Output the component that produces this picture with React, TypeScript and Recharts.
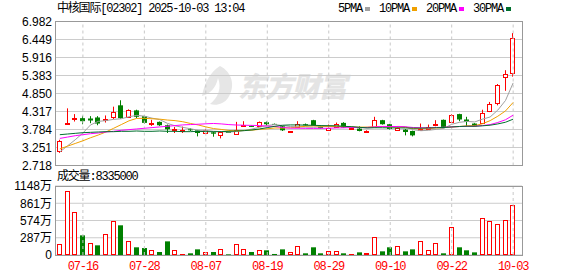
import React from 'react';
import { ComposedChart, Bar, Line, XAxis, YAxis, CartesianGrid, ReferenceLine } from 'recharts';

const dates = ['07-11','07-14','07-15','07-16','07-17','07-18','07-21','07-22','07-23','07-24','07-25','07-28','07-29','07-30','07-31','08-01','08-04','08-05','08-06','08-07','08-08','08-11','08-12','08-13','08-14','08-15','08-18','08-19','08-20','08-21','08-22','08-25','08-26','08-27','08-28','08-29','09-01','09-02','09-03','09-04','09-05','09-08','09-09','09-10','09-11','09-12','09-15','09-16','09-17','09-18','09-19','09-22','09-23','09-24','09-25','09-26','09-29','09-30','10-02','10-03'];

const opens = [3.13,3.95,4.09,4.12,4.11,4.14,4.06,4.13,4.50,4.15,4.35,4.18,3.97,4.01,3.91,3.78,3.75,3.79,3.76,3.68,3.70,3.62,3.71,3.66,3.90,3.89,3.88,4.00,3.95,3.88,3.70,3.87,3.94,4.06,3.87,3.78,3.87,3.98,3.83,3.81,3.74,3.84,4.06,3.94,3.76,3.78,3.74,3.77,3.81,3.95,4.07,4.00,4.24,4.08,3.96,3.96,4.33,4.57,5.35,5.46];
const highs = [3.48,4.41,4.24,4.19,4.18,4.18,4.20,4.46,4.65,4.38,4.37,4.19,4.07,4.02,3.93,3.86,3.87,3.82,3.77,3.79,3.72,3.73,3.72,4.01,4.03,3.90,4.02,4.02,3.96,3.89,3.74,4.03,3.96,4.07,3.88,3.93,3.99,4.00,3.85,3.88,3.76,4.16,4.07,3.95,3.84,3.80,3.75,3.96,3.93,4.06,4.08,4.24,4.25,4.16,3.97,4.37,4.60,5.13,5.54,6.64];
const lows = [3.09,3.93,4.02,3.94,3.97,3.91,3.99,4.09,4.10,4.13,4.12,3.96,3.89,3.89,3.68,3.68,3.68,3.74,3.58,3.67,3.57,3.52,3.68,3.65,3.86,3.86,3.87,3.90,3.92,3.74,3.69,3.86,3.90,3.89,3.81,3.77,3.86,3.83,3.82,3.73,3.72,3.83,3.93,3.78,3.74,3.61,3.58,3.76,3.80,3.88,3.85,3.99,4.03,3.88,3.87,3.95,4.30,4.50,4.93,5.35];
const closes = [3.44,3.97,4.11,4.03,4.05,3.96,4.09,4.29,4.12,4.35,4.16,3.98,3.99,3.91,3.79,3.79,3.76,3.78,3.68,3.78,3.66,3.72,3.69,3.78,3.92,3.87,4.00,3.94,3.93,3.76,3.73,3.95,3.91,3.90,3.82,3.84,3.96,3.84,3.84,3.74,3.75,4.06,3.94,3.80,3.83,3.71,3.61,3.79,3.87,3.96,3.86,4.21,4.08,4.01,3.88,4.27,4.53,5.10,5.43,6.49];

const volumes = [1770000,10590000,7100000,3270000,1940000,1610000,3440000,5600000,4940000,2270000,1280000,1160000,890000,500000,2270000,890000,110000,280000,940000,440000,500000,1050000,110000,1890000,1050000,500000,890000,780000,170000,940000,440000,1550000,280000,1280000,280000,610000,610000,280000,110000,440000,280000,2940000,610000,1280000,1440000,610000,940000,2270000,890000,1940000,280000,4710000,1280000,780000,440000,6210000,5710000,5100000,5880000,8335000];
const volumeUp = [1,1,1,0,1,0,1,1,0,1,0,0,1,0,0,1,1,0,0,1,0,1,0,1,1,0,1,0,0,0,1,1,0,0,0,1,1,0,1,0,1,1,0,0,1,0,0,1,1,1,0,1,0,0,0,1,1,1,1,1];

const ma5 = [3.12,3.30,3.48,3.68,3.92,4.024,4.048,4.084,4.102,4.162,4.202,4.18,4.12,4.078,3.966,3.892,3.848,3.806,3.76,3.758,3.732,3.724,3.706,3.726,3.754,3.796,3.852,3.902,3.932,3.90,3.872,3.862,3.856,3.85,3.862,3.884,3.886,3.872,3.86,3.844,3.826,3.846,3.866,3.858,3.876,3.868,3.778,3.748,3.762,3.788,3.818,3.938,3.996,4.024,4.008,4.09,4.154,4.358,4.642,5.164];
const ma10 = [3.21,3.29,3.37,3.45,3.54,3.62,3.71,3.82,3.93,4.041,4.113,4.114,4.102,4.09,4.064,4.047,4.014,3.963,3.919,3.862,3.812,3.786,3.756,3.743,3.756,3.764,3.788,3.804,3.829,3.827,3.834,3.857,3.879,3.891,3.881,3.878,3.874,3.864,3.855,3.853,3.855,3.866,3.869,3.859,3.86,3.847,3.812,3.807,3.81,3.832,3.843,3.858,3.872,3.893,3.898,3.954,4.046,4.177,4.333,4.586];
const ma20 = [3.52,3.56,3.60,3.63,3.66,3.68,3.71,3.73,3.76,3.78,3.80,3.82,3.84,3.86,3.88,3.90,3.92,3.93,3.94,3.952,3.963,3.95,3.929,3.917,3.91,3.906,3.901,3.884,3.874,3.845,3.823,3.822,3.818,3.817,3.819,3.821,3.831,3.834,3.842,3.84,3.845,3.862,3.874,3.875,3.871,3.863,3.843,3.836,3.833,3.843,3.849,3.862,3.871,3.876,3.879,3.901,3.929,3.992,4.072,4.209];
const ma30 = [3.63,3.65,3.67,3.69,3.70,3.71,3.72,3.72,3.73,3.73,3.74,3.73,3.73,3.74,3.73,3.73,3.72,3.72,3.73,3.72,3.72,3.72,3.73,3.74,3.75,3.77,3.80,3.84,3.88,3.91,3.92,3.919,3.912,3.908,3.90,3.896,3.892,3.877,3.868,3.847,3.834,3.836,3.835,3.831,3.832,3.83,3.825,3.825,3.831,3.837,3.844,3.86,3.873,3.881,3.88,3.893,3.911,3.949,3.999,4.09];

const priceTicks = [2.718, 3.251, 3.784, 4.317, 4.85, 5.383, 5.916, 6.449, 6.982];
const volumeTicks = [0, 2870000, 5740000, 8610000, 11480000];
const dateTicks = ['07-16','07-28','08-07','08-19','08-29','09-10','09-22','10-03'];

const stockName = '中核国际[02302]';
const stamp = '2025-10-03 13:04';
const volumeLabel = '成交量';
const watermark = '东方财富';

const RED = '#ff0000';
const GREEN = '#008000';
const maSeries = [
  { key: 'ma5', name: '5PMA', color: '#a0a0a0' },
  { key: 'ma10', name: '10PMA', color: '#f0a000' },
  { key: 'ma20', name: '20PMA', color: '#ff00ff' },
  { key: 'ma30', name: '30PMA', color: '#006f2e' },
];

const data = dates.map((d, i) => ({
  date: d,
  open: opens[i],
  high: highs[i],
  low: lows[i],
  close: closes[i],
  range: [lows[i], highs[i]],
  volume: volumes[i],
  volUp: volumeUp[i] === 1,
  ma5: ma5[i],
  ma10: ma10[i],
  ma20: ma20[i],
  ma30: ma30[i],
}));

const monoFont = "'Liberation Mono', 'Noto Sans CJK SC', monospace";
const sansFont = "'Liberation Sans', Arial, 'Noto Sans CJK SC', sans-serif";

const Candle = (props: any) => {
  const { x, y, width, height, payload } = props;
  if (!payload || x == null) return null;
  const { open, close, high, low } = payload;
  const top = Math.min(y, y + height);
  const h = Math.abs(height);
  const up = close >= open;
  const color = up ? RED : GREEN;
  const ratio = h / Math.max(high - low, 1e-9);
  const yOf = (p: number) => top + (high - p) * ratio;
  const cx = Math.floor(x + width / 2) + 0.5;
  const bTop = yOf(Math.max(open, close));
  const bBot = yOf(Math.min(open, close));
  const bh = Math.max(bBot - bTop, 1);
  return (
    <g>
      <line x1={cx} x2={cx} y1={top} y2={top + h} stroke={color} strokeWidth={1} />
      {up ? (
        <rect x={cx - 2} y={Math.round(bTop) + 0.5} width={4} height={Math.max(Math.round(bh), 1)} fill="#fff" stroke={color} strokeWidth={1} />
      ) : (
        <rect x={cx - 2.5} y={bTop} width={5} height={bh} fill={color} />
      )}
    </g>
  );
};

const VolBar = (props: any) => {
  const { x, y, width, height, payload } = props;
  if (!payload || x == null) return null;
  const top = Math.min(y, y + height);
  const h = Math.abs(height);
  const cx = Math.floor(x + width / 2) + 0.5;
  if (payload.volUp) {
    return <rect x={cx - 2} y={Math.round(top) + 0.5} width={4} height={Math.max(Math.round(h) - 1, 1)} fill="#fff" stroke={RED} strokeWidth={1} />;
  }
  return <rect x={cx - 2.5} y={top} width={5} height={h} fill={GREEN} />;
};

const formatVol = (v: number) => (v === 0 ? '0' : `${Math.round(v / 10000)}万`);

export default function App() {
  const last = volumes[volumes.length - 1];
  return (
    <div style={{ position: 'absolute', left: 0, top: 0, width: 578, height: 276, background: '#fff', overflow: 'hidden' }}>
      {/* watermark */}
      <div style={{ position: 'absolute', left: 198, top: 64, width: 160, height: 44 }}>
        <svg width={40} height={44} style={{ position: 'absolute', left: 0, top: 0 }}>
          <path d="M22 2 C 34 8, 38 22, 30 34 C 26 40, 18 42, 12 40 C 20 34, 24 24, 20 14 C 18 24, 12 30, 4 32 C 6 20, 12 8, 22 2 Z" fill="#e6e6e6" />
        </svg>
        <div style={{ position: 'absolute', left: 40, top: 4, fontFamily: "'Noto Sans CJK SC', sans-serif", fontWeight: 900, fontStyle: 'italic', fontSize: 28, lineHeight: '34px', color: '#e4e4e4', letterSpacing: -1, whiteSpace: 'nowrap' }}>{watermark}</div>
      </div>

      {/* price chart */}
      <div style={{ position: 'absolute', left: 0, top: 0 }}>
        <ComposedChart width={578} height={178} data={data} margin={{ top: 21.5, right: 56, bottom: 12.5, left: 0 }}>
          <CartesianGrid vertical={false} stroke="#cccccc" />
          <XAxis dataKey="date" hide padding={{ left: 1, right: 5 }} />
          <YAxis
            width={55}
            domain={[priceTicks[0], priceTicks[priceTicks.length - 1]]}
            ticks={priceTicks}
            interval={0}
            tickFormatter={(v: number) => v.toFixed(3)}
            axisLine={false}
            tickLine={false}
            tickSize={0}
            tickMargin={3}
            tick={{ fill: '#000', fontSize: 12, fontFamily: sansFont }}
            allowDataOverflow
          />
          {dateTicks.map((d) => (
            <ReferenceLine key={d} x={d} stroke="#c8c8c8" strokeDasharray="3 3" />
          ))}
          <Bar dataKey="range" barSize={5} shape={<Candle />} isAnimationActive={false} />
          {maSeries.map((m) => (
            <Line key={m.key} dataKey={m.key} stroke={m.color} strokeWidth={1} dot={false} activeDot={false} type="linear" isAnimationActive={false} />
          ))}
        </ComposedChart>
      </div>

      {/* volume chart */}
      <div style={{ position: 'absolute', left: 0, top: 170 }}>
        <ComposedChart width={578} height={106} data={data} margin={{ top: 16, right: 56, bottom: 0, left: 0 }}>
          <CartesianGrid vertical={false} stroke="#cccccc" />
          <XAxis
            dataKey="date"
            ticks={dateTicks}
            interval={0}
            height={21}
            padding={{ left: 1, right: 5 }}
            axisLine={false}
            tickLine={false}
            tickSize={0}
            tickMargin={6}
            tick={{ fill: RED, fontSize: 12, fontFamily: monoFont, letterSpacing: -1.1 }}
          />
          <YAxis
            width={55}
            domain={[0, volumeTicks[volumeTicks.length - 1]]}
            ticks={volumeTicks}
            interval={0}
            tickFormatter={formatVol}
            axisLine={false}
            tickLine={false}
            tickSize={0}
            tickMargin={3}
            tick={{ fill: '#000', fontSize: 12, fontFamily: sansFont }}
          />
          {dateTicks.map((d) => (
            <ReferenceLine key={d} x={d} stroke="#c8c8c8" strokeDasharray="3 3" />
          ))}
          <Bar dataKey="volume" barSize={5} shape={<VolBar />} isAnimationActive={false} />
        </ComposedChart>
      </div>

      {/* panel borders */}
      <div style={{ position: 'absolute', left: 55, top: 21, width: 468, height: 145, boxSizing: 'border-box', border: '1px solid #999', pointerEvents: 'none' }} />
      <div style={{ position: 'absolute', left: 55, top: 186, width: 468, height: 70, boxSizing: 'border-box', border: '1px solid #999', pointerEvents: 'none' }} />

      {/* title */}
      <div style={{ position: 'absolute', left: 57, top: 2, fontFamily: monoFont, fontSize: 12, lineHeight: '14px', letterSpacing: -1.2, color: '#000', whiteSpace: 'nowrap' }}>
        {stockName} {stamp}
      </div>

      {/* legend */}
      <div style={{ position: 'absolute', left: 338, top: 2, display: 'flex', alignItems: 'center', fontFamily: monoFont, fontSize: 12, lineHeight: '14px', letterSpacing: -1.2, color: '#000', whiteSpace: 'nowrap' }}>
        {maSeries.map((m) => (
          <div key={m.key} style={{ display: 'flex', alignItems: 'center', marginRight: 9 }}>
            <span>{m.name}</span>
            <span style={{ display: 'inline-block', width: 5, height: 4, background: m.color, marginLeft: 3 }} />
          </div>
        ))}
      </div>

      {/* volume label */}
      <div style={{ position: 'absolute', left: 57, top: 170, fontFamily: monoFont, fontSize: 12, lineHeight: '14px', letterSpacing: -1.2, color: '#000', whiteSpace: 'nowrap' }}>
        {volumeLabel}:{last}
      </div>
    </div>
  );
}
